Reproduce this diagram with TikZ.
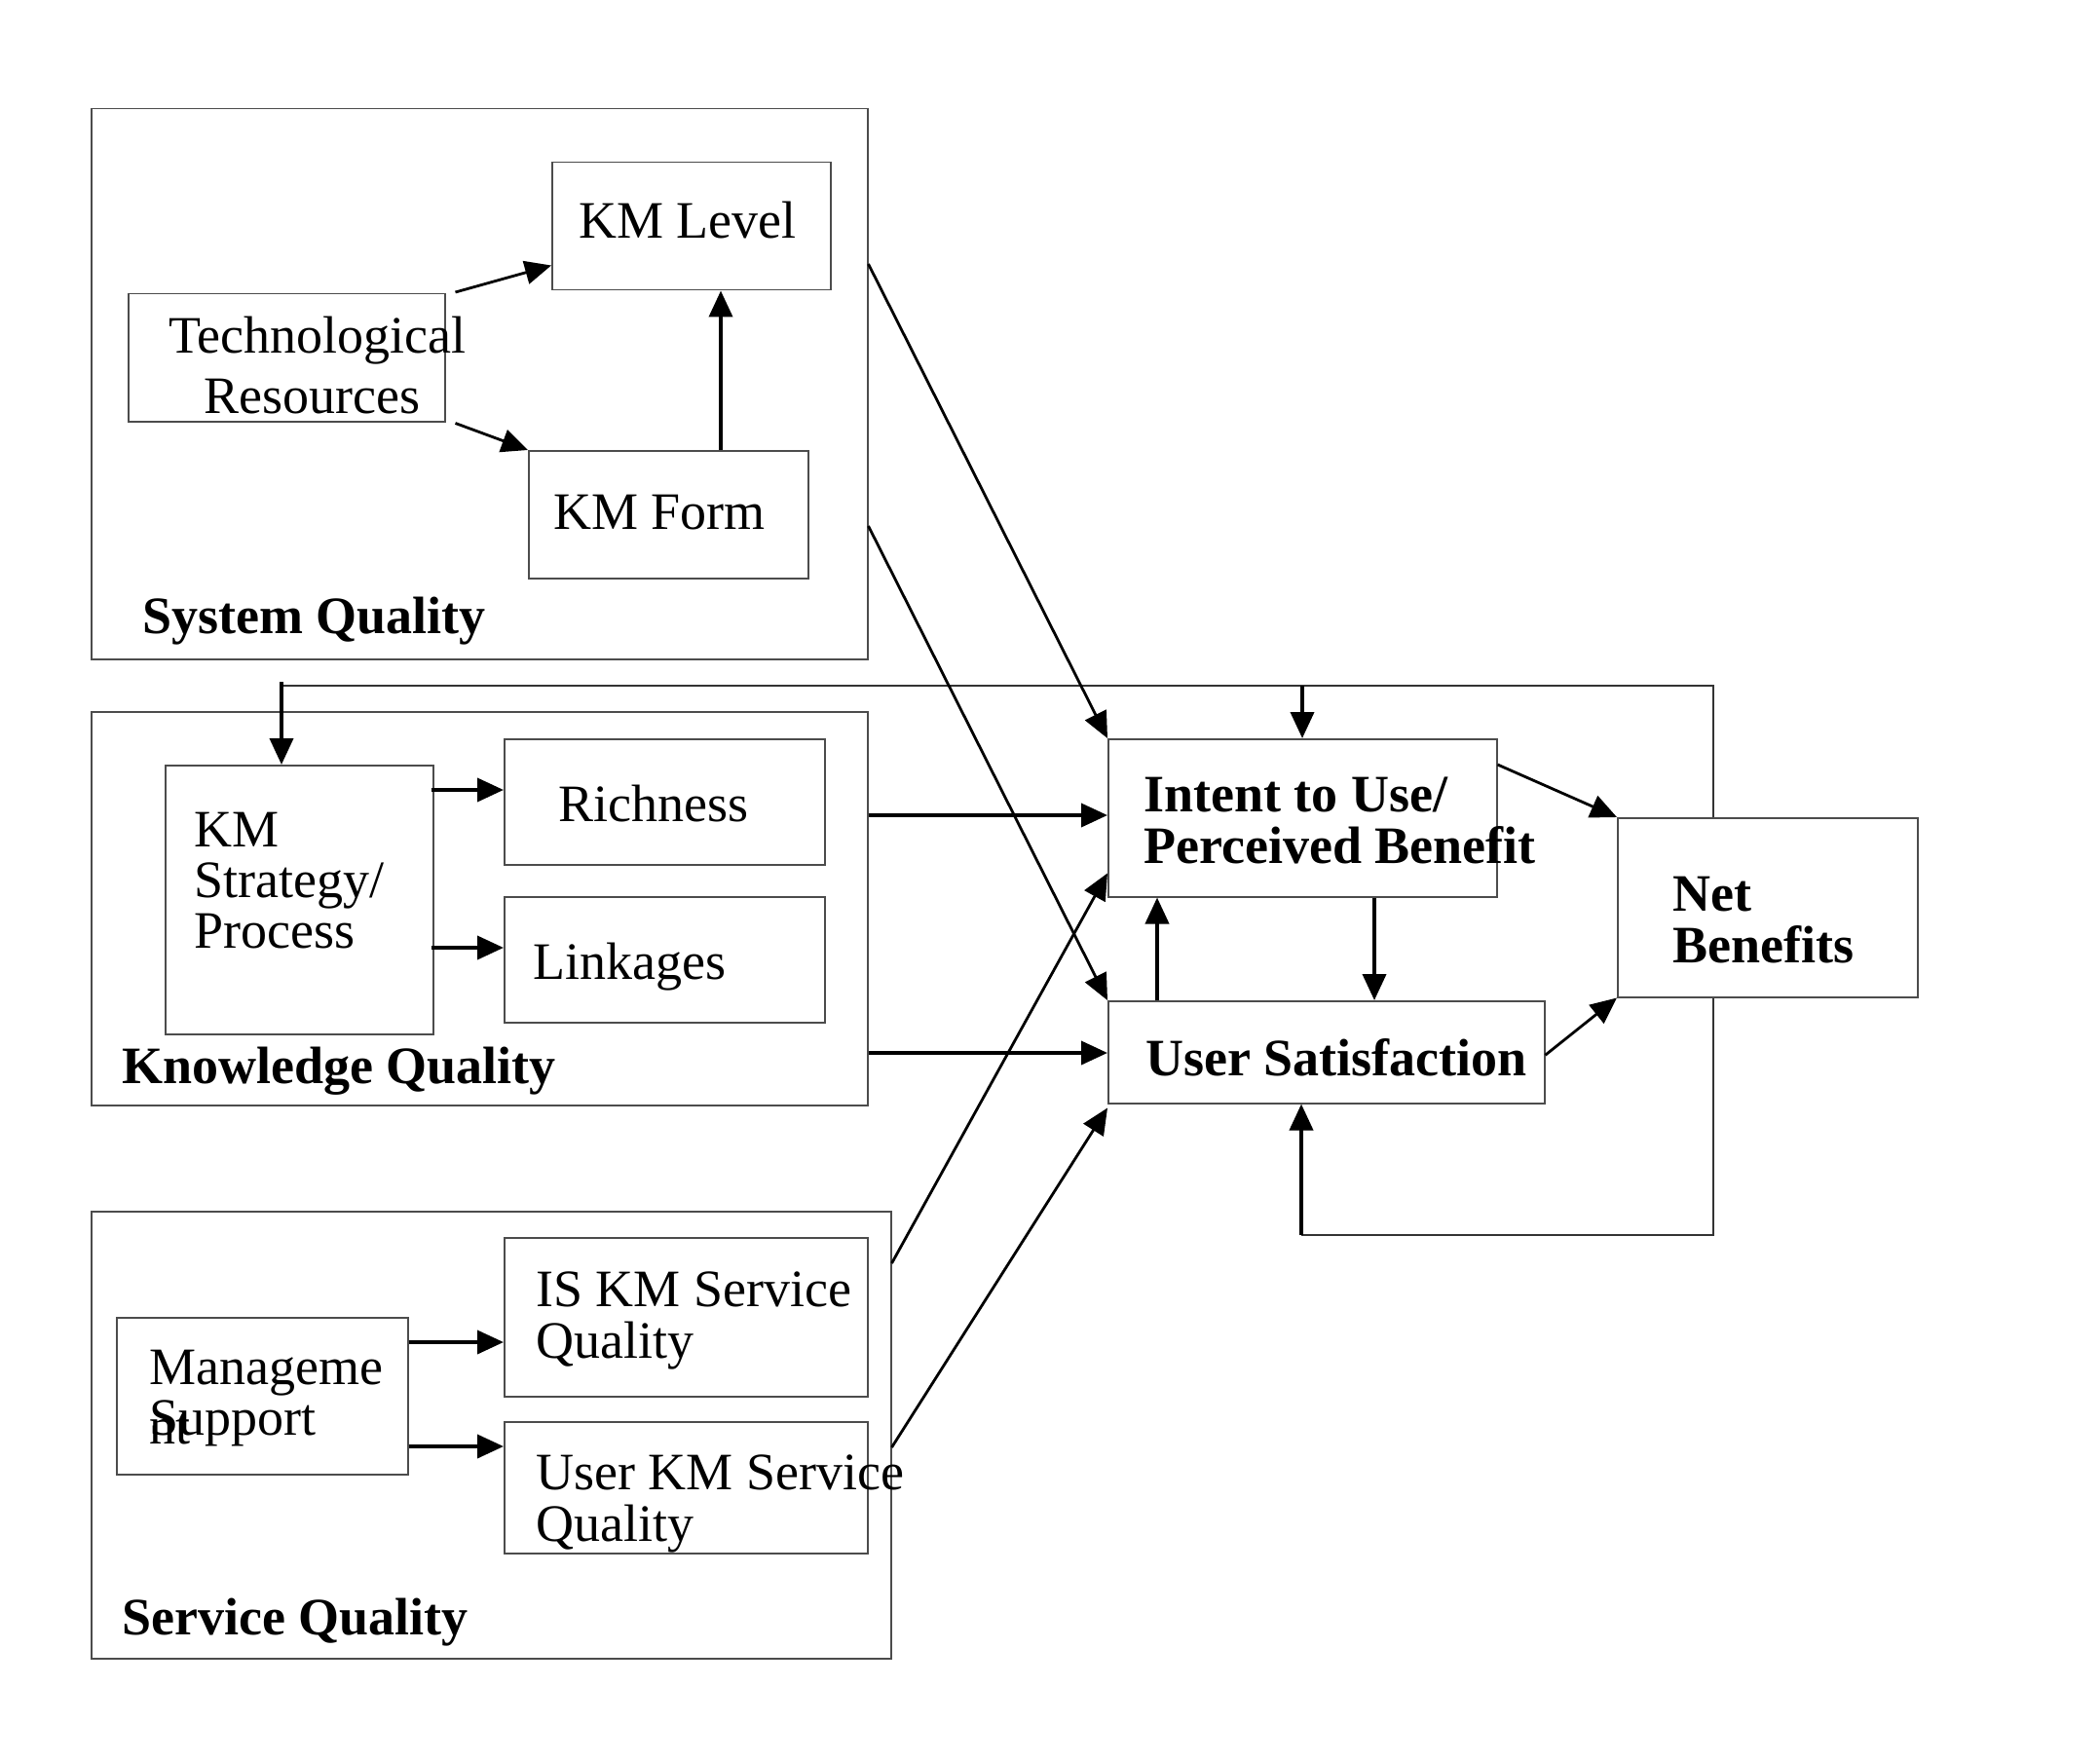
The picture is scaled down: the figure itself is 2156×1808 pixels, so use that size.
\documentclass[tikz,border=0pt]{standalone}
\usepackage{fontspec}
\setmainfont{Liberation Serif}
\usetikzlibrary{arrows.meta,calc}
\newcommand{\ml}[1]{\begin{tabular}[t]{@{}l@{}}#1\end{tabular}}
\begin{document}
\begin{tikzpicture}[x=0.5pt,y=-0.5pt,
  box/.style={draw=black!70,line width=0.75pt,fill=white,inner sep=0pt,anchor=north west},
  lbl/.style={anchor=base west,inner sep=0pt,font=\fontsize{27}{26}\selectfont},
  blbl/.style={anchor=base west,inner sep=0pt,font=\fontsize{27}{26}\selectfont\bfseries},
  arr/.style={line width=1.9pt,-{Triangle[length=13.5pt,width=12pt]}},
  thinarr/.style={line width=1.4pt,-{Triangle[length=13.5pt,width=12pt]}},
  loopline/.style={line width=0.8pt,draw=black!80}]
\useasboundingbox (0,0) rectangle (2156,1808);
% feedback loop coordinates
\coordinate (lpL) at (289,704);
\coordinate (lpR) at (1759,704);
\coordinate (lpBR) at (1759,1268);
\coordinate (lpB) at (1336,1268);
\coordinate (lpI) at (1337,704);
\draw[loopline] (lpL) -- (lpR) -- (lpBR) -- (lpB);
% group boxes
\node[box,minimum width=797*0.5pt,minimum height=565*0.5pt] (sysq) at (93,111) {};
\node[box,minimum width=797*0.5pt,minimum height=404*0.5pt] (knowq) at (93,730) {};
\node[box,minimum width=821*0.5pt,minimum height=459*0.5pt] (servq) at (93,1243) {};
% inner boxes
\node[box,minimum width=286*0.5pt,minimum height=131*0.5pt] (kmlevel) at (566,166) {};
\node[box,minimum width=325*0.5pt,minimum height=131*0.5pt] (techres) at (131,301) {};
\node[box,minimum width=287*0.5pt,minimum height=131*0.5pt] (kmform) at (542,462) {};
\node[box,minimum width=275*0.5pt,minimum height=276*0.5pt] (kmstrat) at (169,785) {};
\node[box,minimum width=329*0.5pt,minimum height=129*0.5pt] (rich) at (517,758) {};
\node[box,minimum width=329*0.5pt,minimum height=129*0.5pt] (link) at (517,920) {};
\node[box,minimum width=299*0.5pt,minimum height=161*0.5pt] (mgmt) at (119,1352) {};
\node[box,minimum width=373*0.5pt,minimum height=163*0.5pt] (iskm) at (517,1270) {};
\node[box,minimum width=373*0.5pt,minimum height=135*0.5pt] (userkm) at (517,1459) {};
\node[box,minimum width=399*0.5pt,minimum height=162*0.5pt] (intent) at (1137,758) {};
\node[box,minimum width=448*0.5pt,minimum height=105*0.5pt] (usersat) at (1137,1027) {};
\node[box,minimum width=308*0.5pt,minimum height=184*0.5pt] (net) at (1660,839) {};
% texts
\node[lbl] (tkmlevel) at (594,245) {KM Level};
\node[lbl] (ttechres) at (173,363) {\ml{Technological\\[5pt]\hspace{18pt}Resources}};
\node[lbl] (tkmform) at (568,543) {KM Form};
\node[blbl] (tsysq) at (146,650) {System Quality};
\node[lbl] (tkmstrat) at (199,869) {\ml{KM\\Strategy/\\Process}};
\node[lbl] (trich) at (573,843) {Richness};
\node[lbl] (tlink) at (547,1005) {Linkages};
\node[blbl] (tknowq) at (125,1112) {Knowledge Quality};
\node[lbl] (tiskm) at (550,1341) {\ml{IS KM Service\\Quality}};
\node[lbl] (tuserkm) at (550,1529) {\ml{User KM Service\\Quality}};
\node[blbl] (tservq) at (125,1678) {Service Quality};
\node[lbl] (tmgmt) at (153,1421) {\ml{Manageme\\Support}};
\node[lbl] (tmgmt2) at (153,1482) {nt};
\node[blbl] (tintent) at (1174,833) {\ml{Intent to Use/\\Perceived Benefit}};
\node[blbl] (tusersat) at (1176,1104) {User Satisfaction};
\node[blbl] (tnet) at (1717,935) {\ml{Net\\Benefits}};
% connectors: system quality
\draw[thinarr] ($(techres.north east)+(10,-1)$) -- ($(kmlevel.south west)+(0,-26)$);
\draw[thinarr] ($(techres.south east)+(10,1)$) -- (kmform.north west);
\draw[arr] ($(kmform.north west)+(198,0)$) coordinate (a3) -- (a3 |- kmlevel.south);
\draw[thinarr] ($(sysq.north east)+(0,160)$) -- (intent.north west);
\draw[thinarr] ($(sysq.north east)+(0,429)$) -- (usersat.north west);
% knowledge quality
\draw[arr] ($(kmstrat.north east)+(-3,26)$) coordinate (a6) -- (a6 -| rich.west);
\draw[arr] ($(kmstrat.north east)+(-3,188)$) coordinate (a7) -- (a7 -| link.west);
\draw[arr] ($(knowq.north east)+(0,107)$) coordinate (a8) -- (a8 -| intent.west);
\draw[arr] ($(knowq.north east)+(0,351)$) coordinate (a9) -- (a9 -| usersat.west);
% service quality
\draw[thinarr] ($(servq.north east)+(0,54)$) -- ($(intent.south west)+(0,-25)$);
\draw[thinarr] ($(servq.north east)+(0,243)$) -- ($(usersat.south west)+(0,4)$);
\draw[arr] ($(mgmt.north east)+(0,26)$) coordinate (a12) -- (a12 -| iskm.west);
\draw[arr] ($(mgmt.north east)+(0,133)$) coordinate (a13) -- (a13 -| userkm.west);
% outcome
\draw[thinarr] ($(intent.north east)+(0,27)$) -- (net.north west);
\draw[thinarr] ($(usersat.east)+(0,3)$) -- (net.south west);
\draw[arr] ($(usersat.north west)+(51,0)$) coordinate (a16) -- (a16 |- intent.south);
\draw[arr] ($(intent.south west)+(274,0)$) coordinate (a17) -- (a17 |- usersat.north);
% feedback arrows
\draw[arr] (lpB) -- (lpB |- usersat.south);
\draw[arr] ($(lpL)+(0,-4)$) -- (lpL |- kmstrat.north);
\draw[arr] (lpI) -- (lpI |- intent.north);
\end{tikzpicture}
\end{document}
